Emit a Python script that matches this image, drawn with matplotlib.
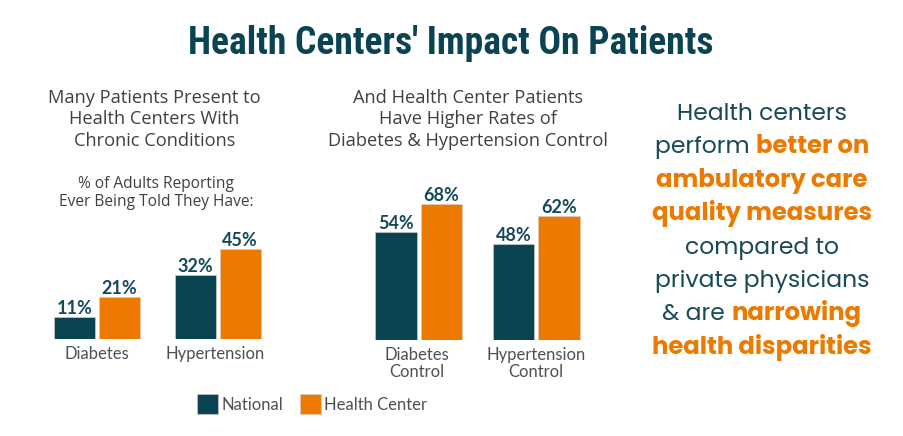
import numpy as np
import matplotlib
matplotlib.use("Agg")
import matplotlib.pyplot as plt
from matplotlib.transforms import ScaledTranslation

TEAL = "#0A4452"
ORANGE = "#EC7A00"
W = 904
H = 436

cats_left = ["Diabetes", "Hypertension"]
national_left = [11, 32]
center_left = [21, 45]

cats_right = ["Diabetes\nControl", "Hypertension\nControl"]
national_right = [54, 48]
center_right = [68, 62]

callout = [
    [("Health centers", False)],
    [("perform ", False), ("better on", True)],
    [("ambulatory care", True)],
    [("quality measures", True)],
    [("compared to", False)],
    [("private physicians", False)],
    [("& are ", False), ("narrowing", True)],
    [("health disparities", True)],
]


def px_axes(fig, x0, y0, x1, y1):
    # pixel box, y measured from the top of the image
    return fig.add_axes([x0 / W, 1 - y1 / H, (x1 - x0) / W, (y1 - y0) / H])


def ftext(fig, x, y, s, **kw):
    return fig.text(x / W, 1 - y / H, s, **kw)


def nudge(fig, lbl, dx):
    lbl.set_transform(lbl.get_transform() + ScaledTranslation(dx / 100, 0, fig.dpi_scale_trans))


def bars(ax, cats, nat, cen, ymax, width):
    x = np.arange(len(cats))
    off = 0.5 * width + 0.015
    b1 = ax.bar(x - off, nat, width, color=TEAL, edgecolor="#c9c9c9", linewidth=0.5, label="National")
    b2 = ax.bar(x + off, cen, width, color=ORANGE, edgecolor="#d9c9b9", linewidth=0.5, label="Health Center")
    for b in (b1, b2):
        ax.bar_label(b, fmt="%d%%", padding=0, fontsize=13, fontweight="bold",
                     family="Lato", color="#15485A")
    ax.set_xlim(-0.5, 1.5)
    ax.set_ylim(0, ymax)
    ax.set_xticks(x)
    ax.set_xticklabels(cats, family="Lato", fontsize=12, color="#505050", linespacing=1.1)
    ax.tick_params(axis="x", length=0, pad=5)
    ax.set_yticks([])
    for s in ax.spines.values():
        s.set_visible(False)
    ax.patch.set_alpha(0)
    return b1, b2


def run_line(fig, cx, y, runs):
    # one centred line made of regular and bold pieces
    r = fig.canvas.get_renderer()
    items = []
    total = 0
    for s, bold in runs:
        t = ftext(fig, 0, y, s, family=["Poppins", "Inter"], fontsize=17.5 if bold else 16.9,
                  fontweight="bold" if bold else "normal",
                  color=ORANGE if bold else "#1A4A5A", va="baseline", ha="left")
        w = t.get_window_extent(r).width
        items.append((t, w))
        total += w
    x = cx - total / 2
    for t, w in items:
        t.set_x(x / W)
        x += w


fig = plt.figure(figsize=(W / 100, H / 100), dpi=100, facecolor="white")

ax1 = px_axes(fig, 37, 239, 278, 339)
h1, h2 = bars(ax1, cats_left, national_left, center_left, 50, 0.34)
nudge(fig, ax1.get_xticklabels()[1], -3)

ax2 = px_axes(fig, 360, 190, 595, 340)
bars(ax2, cats_right, national_right, center_right, 75, 0.354)
nudge(fig, ax2.get_xticklabels()[0], -2)

ftext(fig, 451, 54, "Health Centers' Impact On Patients", ha="center", va="baseline",
      family=["Roboto Condensed", "Roboto"], fontweight="bold", fontsize=27, color=TEAL)

ftext(fig, 154.5, 119.5, "Many Patients Present to\nHealth Centers With\nChronic Conditions",
      ha="center", va="center", family="Open Sans", fontsize=13.15, color="#404040", linespacing=1.25)
ftext(fig, 156, 193, "% of Adults Reporting\nEver Being Told They Have:",
      ha="center", va="center", family="Open Sans", fontsize=11.2, color="#404040", linespacing=1.1)
ftext(fig, 468, 119.5, "And Health Center Patients\nHave Higher Rates of\nDiabetes & Hypertension Control",
      ha="center", va="center", family="Open Sans", fontsize=13.15, color="#404040", linespacing=1.25)

fig.canvas.draw()
for i, runs in enumerate(callout):
    run_line(fig, 762, 120 + i * 33.4, runs)

fig.legend([h1, h2], ["National", "Health Center"], loc="center", bbox_to_anchor=(312 / W, 1 - 404 / H),
           ncol=2, frameon=False, prop={"family": "Lato", "size": 12}, labelcolor="#505050",
           handlelength=1.26, handleheight=1.47, handletextpad=0.18, columnspacing=1.0,
           borderpad=0, borderaxespad=0)

fig.savefig("out.png", dpi=100)
